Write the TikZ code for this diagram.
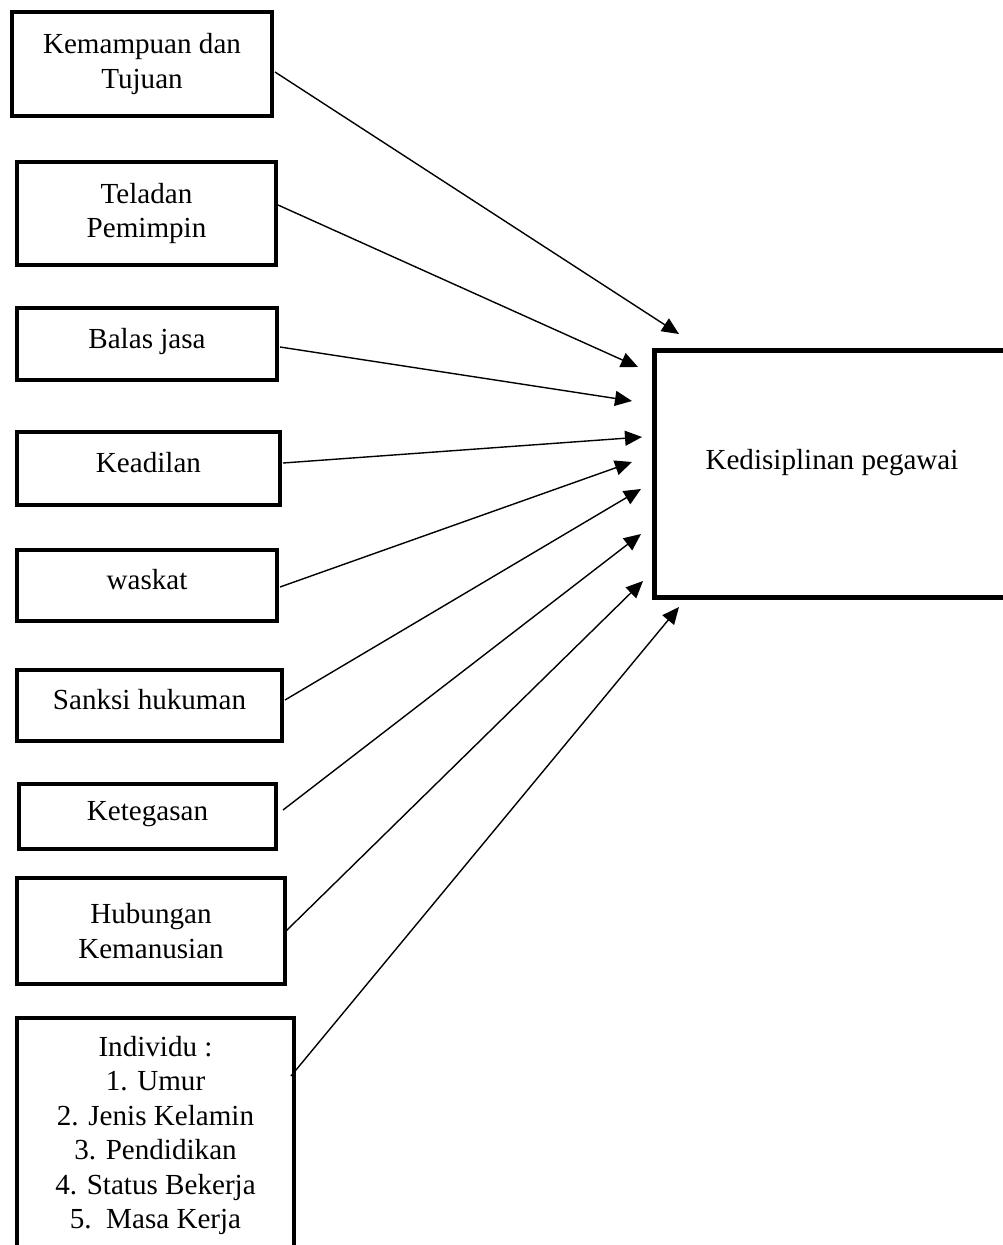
\documentclass[tikz,border=0pt]{standalone}
\usepackage{fontspec}
\setmainfont{Liberation Serif}
\usetikzlibrary{arrows.meta}
\begin{document}
\begin{tikzpicture}[x=1pt,y=-1pt,
  box/.style={draw,line width=4.2pt,rectangle,inner sep=0pt,align=center,
    font=\fontsize{29.1}{34.4}\selectfont},
  onebox/.style={box,text height=20pt,text depth=12pt},
  plain/.style={inner sep=0pt,align=center,font=\fontsize{29.1}{34.4}\selectfont},
  arr/.style={line width=1.4pt,-{Triangle[length=17pt,width=15pt]}}]
\useasboundingbox (0,0) rectangle (1002,1245);

% left boxes
\node[box,minimum width=260pt,minimum height=104pt] (b1) at (142,64) {Kemampuan dan\\Tujuan};
\node[box,minimum width=259pt,minimum height=103pt] (b2) at (146.5,213.5) {Teladan\\Pemimpin};
\node[onebox,minimum width=260pt,minimum height=72pt] (b3) at (147,344) {Balas jasa};
\node[onebox,minimum width=263pt,minimum height=73pt] (b4) at (148.5,468.5) {Keadilan};
\node[onebox,minimum width=260pt,minimum height=71pt] (b5) at (147,585.5) {waskat};
\node[onebox,minimum width=265pt,minimum height=71pt] (b6) at (149.5,705.5) {Sanksi hukuman};
\node[onebox,minimum width=257pt,minimum height=65pt] (b7) at (147.5,816.5) {Ketegasan};
\node[box,minimum width=268pt,minimum height=106pt] (b8) at (151,931) {Hubungan\\Kemanusian};
\draw[line width=4.2pt] (17,1275) -- (17,1018) -- (294,1018) -- (294,1275);
\node[plain,anchor=north] (b9) at (155.5,1036) {Individu :\\1. Umur\\2. Jenis Kelamin\\3. Pendidikan\\4. Status Bekerja\\5.\ \ Masa Kerja};

% right box
\node[draw,line width=5pt,rectangle,inner sep=0pt,minimum width=356pt,minimum height=247pt,
  font=\fontsize{29.1}{34.4}\selectfont,text height=20pt,text depth=30pt] (kd) at (832,474) {Kedisiplinan pegawai};

% connector ends
\coordinate (s1) at (275,72);   \coordinate (t1) at (679,334);
\coordinate (s2) at (278,205);  \coordinate (t2) at (638,367);
\coordinate (s3) at (280,347);  \coordinate (t3) at (632,401);
\coordinate (s4) at (283,463);  \coordinate (t4) at (642,437);
\coordinate (s5) at (280,587);  \coordinate (t5) at (632,462);
\coordinate (s6) at (285,700);  \coordinate (t6) at (641,489);
\coordinate (s7) at (283,810);  \coordinate (t7) at (641,534);
\coordinate (s8) at (285,932);  \coordinate (t8) at (643,581);
\coordinate (s9) at (291,1076); \coordinate (t9) at (679,607);

\foreach \i in {1,...,9} {\draw[arr] (s\i) -- (t\i);}
\end{tikzpicture}
\end{document}
